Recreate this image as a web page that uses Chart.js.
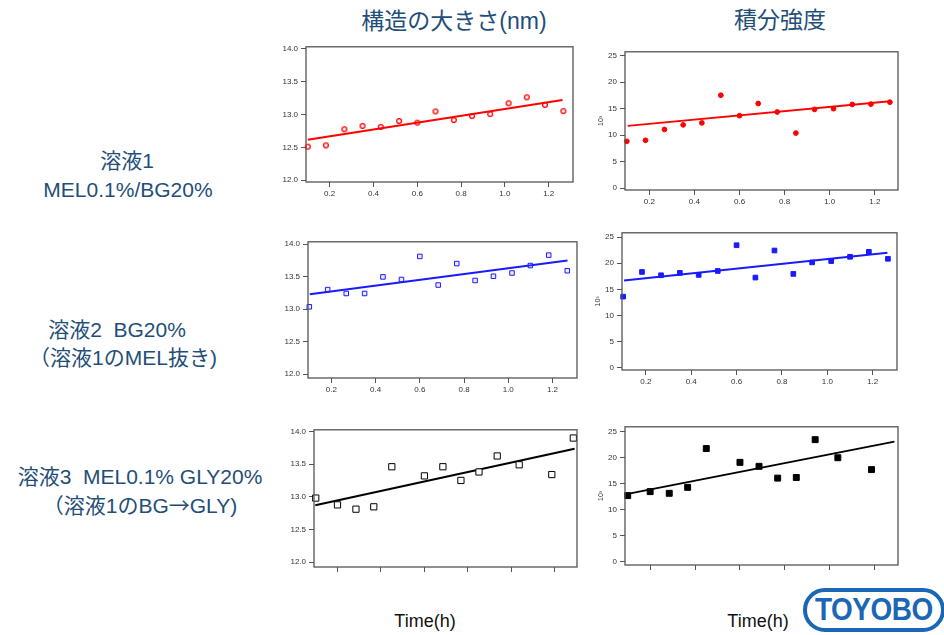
<!DOCTYPE html>
<html>
<head>
<meta charset="utf-8">
<script src="https://cdn.jsdelivr.net/npm/chart.js@4"></script>
<style>
  body { margin: 0; width: 944px; height: 635px; background: #fff; position: relative; overflow: hidden;
         font-family: "Liberation Sans", "Noto Sans CJK JP", sans-serif; }
  canvas { position: absolute; }
  .t { position: absolute; white-space: pre; color: #1F4E79; transform: translate(-50%, -50%); line-height: 1.2; }
  .head { font-size: 23px; }
  .row { font-size: 21px; }
  .cjk { font-family: "Noto Sans CJK JP", sans-serif; }
  .time { position: absolute; transform: translate(-50%, -50%); font-size: 18px; color: #111; }
  .logo { position: absolute; left: 803px; top: 588px; width: 142px; height: 44px; box-sizing: border-box;
          border: 4px solid #1b66b5; border-radius: 22px; }
  .logo span { position: absolute; left: 8px; top: 2px; font: bold 31px/1 "Liberation Sans", Arial, sans-serif;
               color: #1b66b5; transform: scaleX(0.9); transform-origin: left top; letter-spacing: -0.5px; }
</style>
</head>
<body>

<div class="t head" style="left:454px; top:22px;">構造の大きさ(nm)</div>
<div class="t head" style="left:780px; top:21px;">積分強度</div>

<div class="t row" style="left:127px; top:161px;">溶液1</div>
<div class="t row" style="left:128px; top:190px;">MEL0.1%/BG20%</div>
<div class="t row" style="left:117px; top:330px;">溶液2  BG20%</div>
<div class="t row" style="left:123px; top:358px;">（溶液1のMEL抜き)</div>
<div class="t row" style="left:140px; top:477px;">溶液3  MEL0.1% GLY20%</div>
<div class="t row" style="left:140px; top:505px;">（溶液1のBG<span class="cjk">→</span>GLY)</div>

<div class="time" style="left:425px; top:621px;">Time(h)</div>
<div class="time" style="left:758px; top:621px;">Time(h)</div>

<div class="logo"><span>TOYOBO</span></div>

<canvas id="p1"></canvas>
<canvas id="p2"></canvas>
<canvas id="p3"></canvas>
<canvas id="p4"></canvas>
<canvas id="p5"></canvas>
<canvas id="p6"></canvas>

<script>
// Sampling times (h)
const time12 = [0.10, 0.183, 0.267, 0.35, 0.433, 0.517, 0.60, 0.683, 0.767, 0.85, 0.933, 1.017, 1.10, 1.183, 1.267];
const time3 = [0.10, 0.20, 0.285, 0.367, 0.45, 0.60, 0.685, 0.768, 0.851, 0.935, 1.036, 1.186, 1.285];
const time3i = [0.10, 0.20, 0.285, 0.367, 0.45, 0.60, 0.685, 0.768, 0.851, 0.935, 1.036, 1.186];

// Structure size (nm)
const size1 = [12.51, 12.53, 12.775, 12.825, 12.81, 12.90, 12.875, 13.045, 12.915, 12.975, 13.005, 13.17, 13.26, 13.145, 13.05];
const size2 = [13.035, 13.30, 13.24, 13.24, 13.495, 13.455, 13.81, 13.37, 13.70, 13.44, 13.505, 13.555, 13.67, 13.83, 13.59];
const size3 = [12.98, 12.876, 12.81, 12.846, 13.46, 13.32, 13.46, 13.25, 13.38, 13.625, 13.49, 13.34, 13.90];

// Integrated intensity (x10^3)
const intensity1 = [8.83, 9.02, 11.07, 11.94, 12.31, 17.54, 13.68, 15.98, 14.37, 10.39, 14.86, 15.0, 15.80, 15.86, 16.23];
const intensity2 = [13.60, 18.32, 17.69, 18.14, 17.76, 18.51, 23.43, 17.25, 22.42, 17.95, 20.15, 20.40, 21.22, 22.17, 20.84];
const intensity3 = [12.72, 13.48, 13.16, 14.30, 21.77, 19.11, 18.35, 16.08, 16.20, 23.48, 20.0, 17.72];

// Linear-fit end points: [start, end]
const sizeFit1X = [0.10, 1.263],  sizeFit1Y = [12.615, 13.22];
const sizeFit2X = [0.102, 1.268], sizeFit2Y = [13.227, 13.747];
const sizeFit3X = [0.098, 1.291], sizeFit3Y = [12.871, 13.737];
const intFit1X = [0.104, 1.267],  intFit1Y = [11.75, 16.42];
const intFit2X = [0.104, 1.265],  intFit2Y = [16.69, 21.98];
const intFit3X = [0.106, 1.288],  intFit3Y = [13.10, 23.10];

// Tick values
const timeTicks = [0.2, 0.4, 0.6, 0.8, 1.0, 1.2];
const sizeTicks = [12.0, 12.5, 13.0, 13.5, 14.0];
const intensityTicks = [0, 5, 10, 15, 20, 25];

const Y_W = 30, PAD_T = 6, PAD_R = 6, X_H = 22;

const frame = {
  id: 'frame',
  afterDatasetsDraw(chart) {
    const { ctx, chartArea: a } = chart;
    ctx.save();
    ctx.strokeStyle = '#555';
    ctx.lineWidth = 1.3;
    ctx.strokeRect(a.left, a.top, a.right - a.left, a.bottom - a.top);
    ctx.restore();
  }
};

// Small open-circle marker sprite
function openCircle(color, r) {
  const s = Math.ceil(r * 2 + 3);
  const c = document.createElement('canvas');
  c.width = s; c.height = s;
  const g = c.getContext('2d');
  g.strokeStyle = color; g.lineWidth = 1.3;
  g.beginPath(); g.arc(s / 2, s / 2, r, 0, Math.PI * 2); g.stroke();
  return c;
}

function pts(xs, ys) { return xs.map((x, i) => ({ x, y: ys[i] })); }

function plot(id, box, o) {
  const cv = document.getElementById(id);
  const w = Y_W + (box.r - box.l) + PAD_R;
  const h = PAD_T + (box.b - box.t) + X_H;
  cv.width = w; cv.height = h;
  cv.style.left = (box.l - Y_W) + 'px';
  cv.style.top = (box.t - PAD_T) + 'px';
  new Chart(cv, {
    type: 'scatter',
    data: {
      datasets: [
        { data: pts(o.fx, o.fy), showLine: true, borderColor: o.color, borderWidth: 2,
          pointRadius: 0, pointHoverRadius: 0, clip: false, order: 2 },
        { data: pts(o.xs, o.ys), showLine: false, pointStyle: o.style, pointRadius: o.radius,
          pointHoverRadius: o.radius, pointBorderColor: o.color, pointBackgroundColor: o.fill,
          pointHoverBorderColor: o.color, pointHoverBackgroundColor: o.fill,
          pointBorderWidth: o.bw, pointHoverBorderWidth: o.bw, clip: false, order: 1 }
      ]
    },
    options: {
      responsive: false, animation: false, devicePixelRatio: 1, events: [],
      layout: { padding: { top: PAD_T, right: PAD_R, left: 0, bottom: 0 } },
      plugins: { legend: { display: false }, tooltip: { enabled: false } },
      scales: {
        x: {
          type: 'linear', min: o.xr[0], max: o.xr[1],
          afterBuildTicks: s => { s.ticks = timeTicks.map(v => ({ value: v })); },
          afterFit: s => { s.height = X_H; },
          border: { display: false },
          grid: { drawOnChartArea: false, drawTicks: true, tickLength: 5, color: '#555' },
          ticks: { autoSkip: false, maxRotation: 0, padding: 2, color: '#333',
                   font: { size: 8, family: 'Liberation Sans' },
                   callback: v => o.xLabels ? Number(v).toFixed(1) : '' }
        },
        y: {
          min: o.yr[0], max: o.yr[1],
          afterBuildTicks: s => { s.ticks = o.yTicks.map(v => ({ value: v })); },
          afterFit: s => { s.width = Y_W; },
          border: { display: false },
          grid: { drawOnChartArea: false, drawTicks: true, tickLength: 5, color: '#555' },
          ticks: { autoSkip: false, padding: 3, color: '#333',
                   font: { size: 8, family: 'Liberation Sans' },
                   callback: v => o.yFmt(v) },
          title: { display: !!o.yTitle, text: o.yTitle || '', color: '#333',
                   font: { size: 7, family: 'Liberation Sans' }, padding: { top: 2, bottom: 0 } }
        }
      }
    },
    plugins: [frame]
  });
}

const fmt1 = v => Number(v).toFixed(1);
const fmt0 = v => String(Math.round(v));
const RED = '#ff0000', BLUE = '#1a1aff', BLACK = '#000000';

plot('p1', { l: 306, r: 573, t: 45, b: 182 }, {
  xs: time12, ys: size1, fx: sizeFit1X, fy: sizeFit1Y, color: RED, style: openCircle(RED, 2.4), radius: 3,
  fill: '#ffffff', bw: 1, xr: [0.092, 1.311], yr: [11.974, 14.026], yTicks: sizeTicks, yFmt: fmt1, xLabels: true });
plot('p2', { l: 625, r: 898, t: 50, b: 190 }, {
  xs: time12, ys: intensity1, fx: intFit1X, fy: intFit1Y, color: RED, style: 'circle', radius: 2.4,
  fill: RED, bw: 1, xr: [0.092, 1.303], yr: [-0.37, 25.75], yTicks: intensityTicks, yFmt: fmt0, xLabels: true, yTitle: '10³' });
plot('p3', { l: 308, r: 577, t: 240, b: 378 }, {
  xs: time12, ys: size2, fx: sizeFit2X, fy: sizeFit2Y, color: BLUE, style: 'rect', radius: 3.2,
  fill: 'rgba(120,120,255,0.15)', bw: 1, xr: [0.094, 1.311], yr: [11.94, 14.035], yTicks: sizeTicks, yFmt: fmt1, xLabels: true });
plot('p4', { l: 622, r: 897, t: 231, b: 370 }, {
  xs: time12, ys: intensity2, fx: intFit2X, fy: intFit2Y, color: BLUE, style: 'rect', radius: 3.3,
  fill: BLUE, bw: 1, xr: [0.095, 1.307], yr: [-0.43, 25.81], yTicks: intensityTicks, yFmt: fmt0, xLabels: true, yTitle: '10³' });
plot('p5', { l: 314, r: 577, t: 428, b: 567 }, {
  xs: time3, ys: size3, fx: sizeFit3X, fy: sizeFit3Y, color: BLACK, style: 'rect', radius: 4.4,
  fill: '#ffffff', bw: 1, xr: [0.092, 1.302], yr: [11.924, 14.026], yTicks: sizeTicks, yFmt: fmt1, xLabels: false });
plot('p6', { l: 625, r: 898, t: 425, b: 565 }, {
  xs: time3i, ys: intensity3, fx: intFit3X, fy: intFit3Y, color: BLACK, style: 'rect', radius: 4.2,
  fill: BLACK, bw: 1, xr: [0.088, 1.304], yr: [-0.63, 25.95], yTicks: intensityTicks, yFmt: fmt0, xLabels: false, yTitle: '10³' });
</script>
</body>
</html>
